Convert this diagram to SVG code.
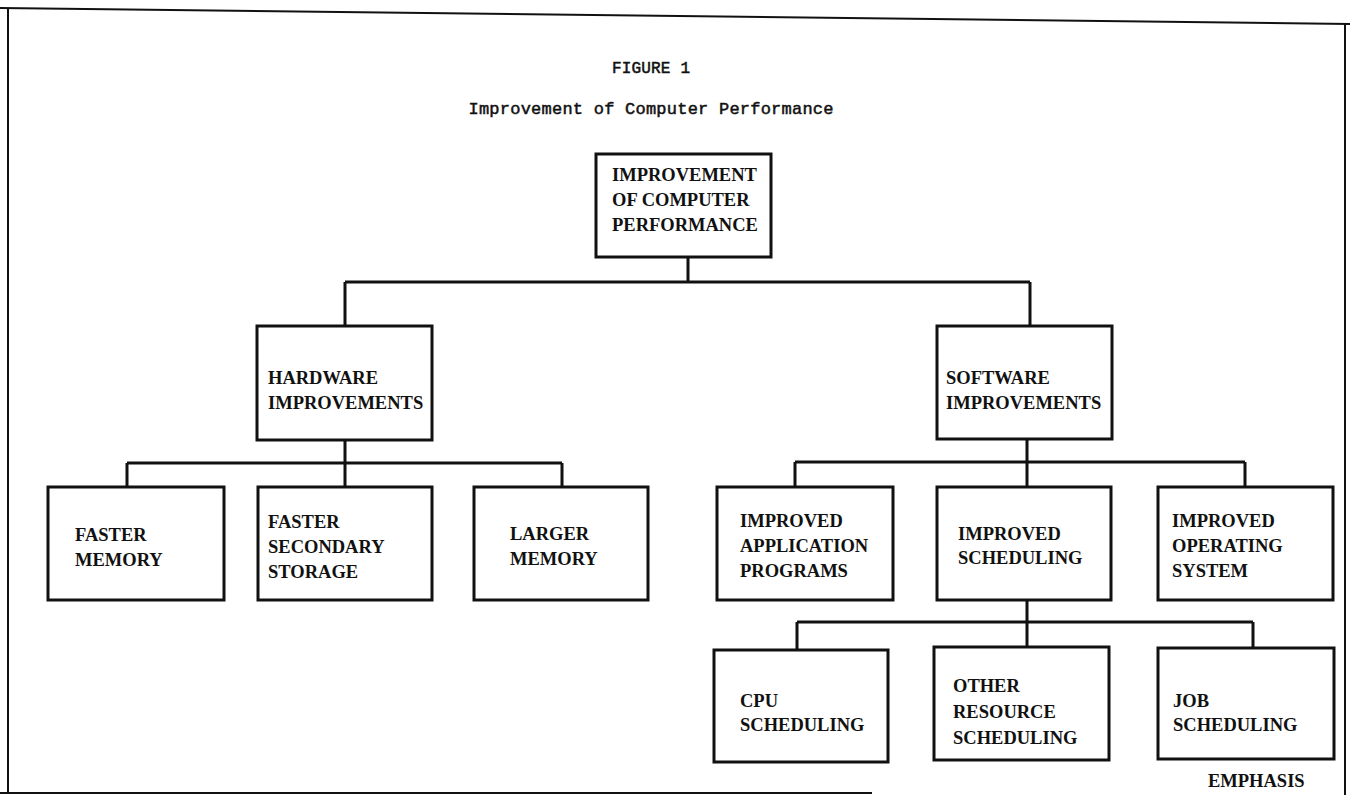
<svg xmlns="http://www.w3.org/2000/svg" width="1350" height="795" viewBox="0 0 1350 795">
<style>
.box{fill:#fff;stroke:#111;stroke-width:3}
.frame{fill:none;stroke:#111;stroke-width:2}
.conn{fill:none;stroke:#111;stroke-width:3}
.lbl{font-family:"Liberation Serif","Times New Roman",serif;font-weight:bold;font-size:18.5px;fill:#111}
.ttl{font-family:"Liberation Mono","Courier New",monospace;font-size:16px;fill:#111;stroke:#111;stroke-width:0.5}
</style>
<rect width="1350" height="795" fill="#fff"/>
<g id="frame">
<path class="frame" d="M0,8 L1350,24"/>
<path class="frame" d="M8,8 L8,792"/>
<path class="frame" d="M0,793 L872,793"/>
<path class="frame" d="M1345,24 L1345,795" stroke-width="1.5"/>
</g>
<g id="titles">
<text class="ttl" x="651" y="73" text-anchor="middle" textLength="78">FIGURE 1</text>
<text class="ttl" x="651" y="114" text-anchor="middle" textLength="365" style="font-size:17px">Improvement of Computer Performance</text>
</g>
<g id="connectors">
<path class="conn" d="M688,257 V282 M345,282 H1030 M345,282 V326 M1030,282 V326"/>
<path class="conn" d="M345,440 V463 M127,463 H562 M127,463 V487 M345,463 V487 M562,463 V487"/>
<path class="conn" d="M1027,439 V462 M795,462 H1245 M795,462 V487 M1027,462 V487 M1245,462 V487"/>
<path class="conn" d="M1027,600 V647 M797,622 H1253 M797,622 V650 M1253,622 V648"/>
</g>
<g id="n-root">
<rect class="box" x="596" y="154" width="175" height="103"/>
<text class="lbl" x="612" y="181">IMPROVEMENT</text>
<text class="lbl" x="612" y="206">OF COMPUTER</text>
<text class="lbl" x="612" y="231">PERFORMANCE</text>
</g>
<g id="n-hardware">
<rect class="box" x="257" y="326" width="175" height="114"/>
<text class="lbl" x="268" y="384">HARDWARE</text>
<text class="lbl" x="268" y="409">IMPROVEMENTS</text>
</g>
<g id="n-software">
<rect class="box" x="937" y="326" width="175" height="113"/>
<text class="lbl" x="946" y="384">SOFTWARE</text>
<text class="lbl" x="946" y="409">IMPROVEMENTS</text>
</g>
<g id="n-faster-memory">
<rect class="box" x="48" y="487" width="176" height="113"/>
<text class="lbl" x="75" y="541">FASTER</text>
<text class="lbl" x="75" y="566">MEMORY</text>
</g>
<g id="n-faster-secondary">
<rect class="box" x="258" y="487" width="174" height="113"/>
<text class="lbl" x="268" y="528">FASTER</text>
<text class="lbl" x="268" y="553">SECONDARY</text>
<text class="lbl" x="268" y="578">STORAGE</text>
</g>
<g id="n-larger-memory">
<rect class="box" x="474" y="487" width="174" height="113"/>
<text class="lbl" x="510" y="540">LARGER</text>
<text class="lbl" x="510" y="565">MEMORY</text>
</g>
<g id="n-app-programs">
<rect class="box" x="717" y="487" width="176" height="113"/>
<text class="lbl" x="740" y="527">IMPROVED</text>
<text class="lbl" x="740" y="552">APPLICATION</text>
<text class="lbl" x="740" y="577">PROGRAMS</text>
</g>
<g id="n-scheduling">
<rect class="box" x="937" y="487" width="174" height="113"/>
<text class="lbl" x="958" y="540">IMPROVED</text>
<text class="lbl" x="958" y="564">SCHEDULING</text>
</g>
<g id="n-operating-system">
<rect class="box" x="1158" y="487" width="175" height="113"/>
<text class="lbl" x="1172" y="527">IMPROVED</text>
<text class="lbl" x="1172" y="552">OPERATING</text>
<text class="lbl" x="1172" y="577">SYSTEM</text>
</g>
<g id="n-cpu">
<rect class="box" x="714" y="650" width="174" height="112"/>
<text class="lbl" x="740" y="707">CPU</text>
<text class="lbl" x="740" y="731">SCHEDULING</text>
</g>
<g id="n-other">
<rect class="box" x="934" y="647" width="175" height="113"/>
<text class="lbl" x="953" y="692">OTHER</text>
<text class="lbl" x="953" y="718">RESOURCE</text>
<text class="lbl" x="953" y="744">SCHEDULING</text>
</g>
<g id="n-job">
<rect class="box" x="1158" y="648" width="176" height="111"/>
<text class="lbl" x="1173" y="707">JOB</text>
<text class="lbl" x="1173" y="731">SCHEDULING</text>
</g>
<text class="lbl" x="1208" y="787">EMPHASIS</text>
</svg>
